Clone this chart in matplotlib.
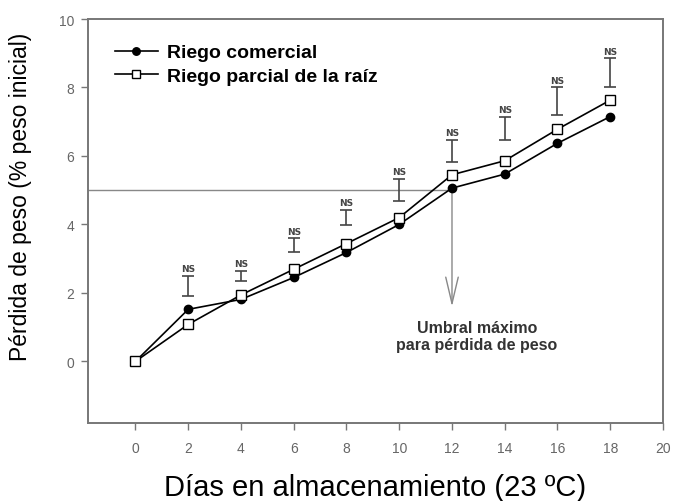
import matplotlib
matplotlib.use("Agg")
import matplotlib.pyplot as plt

# datos
dias = [0, 2, 4, 6, 8, 10, 12, 14, 16, 18]
riego_comercial = [0.0, 1.52, 1.81, 2.45, 3.18, 4.0, 5.06, 5.47, 6.37, 7.15]
riego_parcial = [0.0, 1.08, 1.94, 2.69, 3.44, 4.2, 5.45, 5.86, 6.78, 7.63]

# barras de error (NS) sobre los puntos
dias_ns = [2, 4, 6, 8, 10, 12, 14, 16, 18]
ns_bajo = [1.91, 2.35, 3.2, 3.98, 4.69, 5.83, 6.46, 7.19, 8.0]
ns_alto = [2.49, 2.64, 3.59, 4.42, 5.32, 6.47, 7.15, 8.0, 8.85]

umbral = 5.0
dia_umbral = 12

plt.rcParams['font.family'] = ['Liberation Sans', 'DejaVu Sans']

fig = plt.figure(figsize=(6.75, 5.02), dpi=100)
ax = fig.add_axes([88 / 675, 78 / 502, 575 / 675, 404 / 502])

ax.plot(dias, riego_comercial, color='black', lw=1.2, marker='o', ms=6,
        mfc='black', mec='black', label='Riego comercial', zorder=4)
ax.plot(dias, riego_parcial, color='black', lw=1.2, marker='s', ms=6.5,
        mfc='white', mec='black', mew=1, label='Riego parcial de la raíz', zorder=5)

centro = [(a + b) / 2 for a, b in zip(ns_bajo, ns_alto)]
mitad = [(b - a) / 2 for a, b in zip(ns_bajo, ns_alto)]
ax.errorbar(dias_ns, centro, yerr=mitad, fmt='none', ecolor='#444444',
            elinewidth=1.2, capsize=4, capthick=1.2)
for x, top in zip(dias_ns, ns_alto):
    ax.text(x, top + 0.08, 'NS', ha='center', va='bottom', fontsize=6.5,
            color='#444444', family='DejaVu Sans', fontweight='bold')

# umbral
ax.plot([-1.8, dia_umbral], [umbral, umbral], color='#888888', lw=1, zorder=1)
ax.annotate('', xy=(dia_umbral, 1.52), xytext=(dia_umbral, umbral),
            arrowprops=dict(arrowstyle='->,head_length=1.9,head_width=0.45',
                            color='#888888', lw=1), zorder=1)
ax.text(12.95, 0.73, 'Umbral máximo\npara pérdida de peso', ha='center',
        va='center', fontsize=11.5, fontweight='bold', color='#333333',
        linespacing=1.15)

ax.set_xlim(-1.8, 20)
ax.set_ylim(-1.8, 10)
ax.set_xticks(range(0, 21, 2))
ax.set_yticks(range(0, 11, 2))
ax.tick_params(direction='out', length=5, width=1, colors='#777777',
               labelcolor='#666666', labelsize=10, pad=8)
ax.tick_params(axis='y', pad=5)
for s in ax.spines.values():
    s.set_color('#777777')
    s.set_linewidth(1.4)

ax.set_xlabel('Días en almacenamiento (23 ºC)', fontsize=21, labelpad=13)
ax.set_ylabel('Pérdida de peso (% peso inicial)', fontsize=16.5)
ax.yaxis.set_label_coords(-0.097, 0.562)

leg = ax.legend(loc='upper left', bbox_to_anchor=(0.033, 0.958), frameon=False,
                prop={'weight': 'bold', 'size': 14}, handlelength=2.2,
                handletextpad=0.5, labelspacing=0.3, borderaxespad=0,
                markerscale=0.9)

fig.savefig('out.png', dpi=100)
